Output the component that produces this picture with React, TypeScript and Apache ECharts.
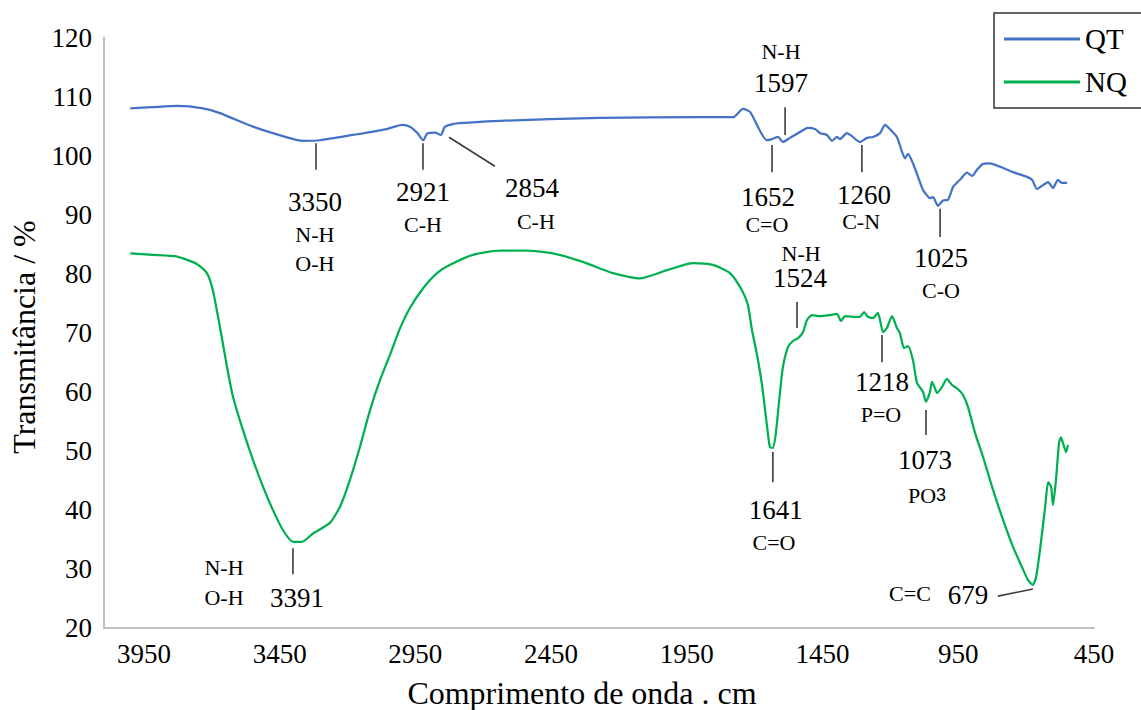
import React, { useEffect, useRef } from 'react';
import * as echarts from 'echarts';

const FONT = 'Liberation Serif';
const SUBFONT = 'Liberation Sans';

const seriesNames = ['QT', 'NQ'];
const seriesColors = ['#4472C4', '#00B050'];

const xTickLabels = [3950, 3450, 2950, 2450, 1950, 1450, 950, 450];

const wnQT = [4000, 3917, 3828, 3732, 3670, 3548, 3423, 3364, 3301, 3180, 3055, 2999, 2970, 2944, 2921, 2907, 2878, 2856, 2841, 2811, 2786, 2638, 2270, 1901, 1780, 1743, 1717, 1655, 1636, 1614, 1596, 1570, 1533, 1504, 1478, 1459, 1434, 1415, 1397, 1386, 1360, 1342, 1312, 1286, 1264, 1238, 1220, 1202, 1176, 1157, 1146, 1135, 1117, 1098, 1080, 1054, 1043, 1025, 1006, 988, 969, 944, 918, 899, 881, 859, 833, 796, 748, 697, 678, 660, 638, 619, 601, 583, 568, 549];
const tQT = [108.0, 108.2, 108.4, 108.0, 107.2, 104.9, 103.1, 102.5, 102.6, 103.5, 104.5, 105.2, 104.9, 103.9, 102.6, 103.7, 103.9, 103.5, 104.9, 105.35, 105.5, 105.9, 106.4, 106.5, 106.5, 107.9, 107.4, 102.6, 102.8, 103.15, 102.3, 103.0, 104.0, 104.7, 104.5, 103.8, 103.5, 102.5, 103.15, 102.8, 103.8, 103.3, 102.3, 103.0, 103.15, 103.8, 105.2, 104.5, 103.15, 100.6, 99.55, 100.3, 98.7, 96.35, 94.2, 92.8, 92.95, 91.5, 92.4, 92.5, 94.7, 95.9, 97.1, 96.55, 97.6, 98.6, 98.7, 98.1, 97.2, 96.4, 95.9, 94.35, 95.0, 95.5, 94.5, 95.9, 95.4, 95.4];

const wnNQ = [4000, 3917, 3828, 3755, 3718, 3696, 3670, 3644, 3622, 3585, 3548, 3511, 3475, 3438, 3401, 3368, 3327, 3265, 3228, 3191, 3154, 3117, 3080, 3044, 3007, 2970, 2922, 2870, 2822, 2738, 2638, 2539, 2443, 2333, 2222, 2123, 2023, 1927, 1854, 1791, 1747, 1725, 1710, 1691, 1673, 1655, 1644, 1633, 1622, 1607, 1596, 1577, 1559, 1540, 1522, 1507, 1489, 1459, 1423, 1397, 1382, 1367, 1338, 1312, 1297, 1283, 1264, 1246, 1227, 1213, 1194, 1176, 1165, 1150, 1135, 1117, 1102, 1080, 1069, 1054, 1047, 1036, 1028, 1010, 992, 973, 955, 933, 914, 888, 859, 822, 785, 748, 715, 693, 675, 664, 649, 630, 619, 608, 601, 590, 579, 572, 564, 553, 546];
const tNQ = [83.45, 83.2, 82.9, 81.65, 80.1, 77.2, 71.0, 64.25, 59.2, 53.5, 48.45, 43.9, 40.0, 36.6, 34.6, 34.6, 36.0, 37.8, 40.5, 45.1, 50.7, 56.9, 62.0, 66.2, 70.7, 74.2, 77.5, 80.1, 81.5, 83.2, 83.9, 83.9, 83.45, 82.0, 80.1, 79.2, 80.6, 81.8, 81.5, 80.1, 77.2, 74.7, 70.45, 66.2, 61.15, 54.4, 50.65, 50.5, 53.0, 59.8, 64.2, 67.6, 68.6, 69.1, 70.1, 72.2, 73.0, 72.8, 73.0, 73.2, 72.0, 72.8, 72.7, 72.7, 73.5, 72.7, 72.5, 73.35, 70.1, 70.8, 72.8, 70.8, 69.95, 67.4, 67.75, 65.4, 61.5, 60.0, 58.3, 60.0, 61.7, 60.6, 59.8, 60.8, 62.2, 61.15, 60.6, 59.5, 57.4, 53.0, 49.0, 43.4, 38.3, 33.7, 30.3, 28.1, 27.3, 28.5, 33.2, 40.5, 44.7, 43.9, 40.8, 45.1, 51.3, 52.3, 51.3, 49.8, 51.0];

// Annotations: leader line [x1, y1, x2, y2] and texts [text, x, y, kind] in data units
const annotations: { line: number[]; texts: [string, number, number, string][] }[] = [
  { line: [3316, 102.1, 3316, 97.6], texts: [['3350', 3320, 92.1, 'big'], ['N-H', 3320, 86.6, 'small'], ['O-H', 3320, 81.8, 'small']] },
  { line: [2922, 102.1, 2922, 97.6], texts: [['2921', 2922, 93.9, 'big'], ['C-H', 2922, 88.3, 'small']] },
  { line: [2826, 103.1, 2657, 98.2], texts: [['2854', 2520, 94.5, 'big'], ['C-H', 2506, 88.8, 'small']] },
  { line: [1588, 108.2, 1588, 103.5], texts: [['N-H', 1603, 117.7, 'small'], ['1597', 1603, 112.3, 'big']] },
  { line: [1636, 101.8, 1636, 97.2], texts: [['1652', 1651, 93.0, 'big'], ['C=O', 1655, 88.3, 'small']] },
  { line: [1305, 101.8, 1305, 97.2], texts: [['1260', 1297, 93.3, 'big'], ['C-N', 1308, 88.8, 'small']] },
  { line: [1017, 91.0, 1017, 86.2], texts: [['1025', 1014, 82.7, 'big'], ['C-O', 1014, 77.2, 'small']] },
  { line: [3401, 33.5, 3401, 29.1], texts: [['3391', 3386, 25.1, 'big'], ['N-H', 3655, 30.3, 'small'], ['O-H', 3655, 25.1, 'small']] },
  { line: [1633, 49.8, 1633, 44.7], texts: [['1641', 1622, 40.0, 'big'], ['C=O', 1629, 34.4, 'small']] },
  { line: [1544, 75.2, 1544, 70.8], texts: [['N-H', 1529, 83.5, 'small'], ['1524', 1533, 79.2, 'big']] },
  { line: [1231, 69.6, 1231, 65.0], texts: [['1218', 1231, 61.7, 'big'], ['P=O', 1235, 56.2, 'small']] },
  { line: [1069, 56.9, 1069, 52.7], texts: [['1073', 1073, 48.5, 'big'], ['PO3', 1065, 42.5, 'sub']] },
  { line: [804, 25.4, 675, 26.6], texts: [['679', 914, 25.6, 'big'], ['C=C', 1128, 25.8, 'small']] },
];

const X_MIN = 450;
const X_MAX = 4097;

export default function App() {
  const ref = useRef<HTMLDivElement>(null);

  useEffect(() => {
    if (!ref.current) return;
    const chart = echarts.init(ref.current, null, { renderer: 'svg' });
    const zip = (xs: number[], ys: number[]) => xs.map((x, i) => [x, ys[i]]);
    const option: any = {
      animation: false,
      backgroundColor: '#ffffff',
      textStyle: { fontFamily: FONT },
      grid: { left: 104, right: 47, top: 37.5, bottom: 82, outerBoundsMode: 'none' },
      legend: {
        orient: 'vertical',
        left: 994,
        top: 13,
        padding: [11, 15, 11, 10],
        itemWidth: 76,
        itemHeight: 3,
        itemGap: 13,
        icon: 'rect',
        borderColor: '#333333',
        borderWidth: 1.5,
        textStyle: { fontFamily: FONT, fontSize: 29, color: '#000', lineHeight: 30 },
        data: seriesNames,
      },
      xAxis: {
        type: 'value',
        inverse: true,
        min: X_MIN,
        max: X_MAX,
        interval: 500,
        axisLine: { show: true, onZero: false, lineStyle: { color: '#bfbfbf', width: 2 } },
        axisTick: { show: false },
        splitLine: { show: false },
        axisLabel: { show: false },
      },
      yAxis: {
        type: 'value',
        min: 20,
        max: 120,
        interval: 10,
        axisLine: { show: true, onZero: false, lineStyle: { color: '#bfbfbf', width: 2 } },
        axisTick: { show: false },
        splitLine: { show: false },
        axisLabel: { fontFamily: FONT, fontSize: 27, color: '#000', margin: 12 },
      },
      series: [
        {
          name: seriesNames[0],
          type: 'line',
          data: zip(wnQT, tQT),
          symbol: 'none',
          smooth: 0.2,
          color: seriesColors[0],
          lineStyle: { color: seriesColors[0], width: 2.25 },
        },
        {
          name: seriesNames[1],
          type: 'line',
          data: zip(wnNQ, tNQ),
          symbol: 'none',
          smooth: 0.2,
          color: seriesColors[1],
          lineStyle: { color: seriesColors[1], width: 2.25 },
        },
      ],
    };
    chart.setOption(option);

    const px = (x: number, y: number) => chart.convertToPixel({ gridIndex: 0 }, [x, y]) as number[];
    const elements: any[] = [];

    // x tick labels
    const axisY = px(X_MIN, 20)[1];
    xTickLabels.forEach((v) => {
      const p = px(v, 20);
      elements.push({
        type: 'text',
        x: p[0],
        y: axisY + 26,
        style: { text: String(v), fontFamily: FONT, fontSize: 27, fill: '#000', align: 'center', verticalAlign: 'middle' },
      });
    });

    // axis titles
    elements.push({
      type: 'text',
      x: 582,
      y: 693,
      style: { text: 'Comprimento de onda . cm', fontFamily: FONT, fontSize: 32, fill: '#000', align: 'center', verticalAlign: 'middle' },
    });
    elements.push({
      type: 'text',
      x: 24,
      y: 337,
      rotation: Math.PI / 2,
      style: { text: 'Transmitância / %', fontFamily: FONT, fontSize: 32, fill: '#000', align: 'center', verticalAlign: 'middle' },
    });

    annotations.forEach((a) => {
      const p1 = px(a.line[0], a.line[1]);
      const p2 = px(a.line[2], a.line[3]);
      elements.push({
        type: 'line',
        shape: { x1: p1[0], y1: p1[1], x2: p2[0], y2: p2[1] },
        style: { stroke: '#3a3a3a', lineWidth: 1.6 },
      });
      a.texts.forEach(([t, x, y, kind]) => {
        const p = px(x, y);
        if (kind === 'sub') {
          elements.push({
            type: 'text',
            x: p[0],
            y: p[1],
            style: {
              text: '{a|PO}{b|3}',
              align: 'center',
              verticalAlign: 'middle',
              rich: {
                a: { fontFamily: FONT, fontSize: 22, fill: '#000', color: '#000' },
                b: { fontFamily: SUBFONT, fontSize: 18, fill: '#000', color: '#000' },
              },
            },
          });
        } else {
          elements.push({
            type: 'text',
            x: p[0],
            y: p[1],
            style: {
              text: t,
              fontFamily: FONT,
              fontSize: kind === 'big' ? 27 : 22,
              fill: '#000',
              align: 'center',
              verticalAlign: 'middle',
            },
          });
        }
      });
    });

    chart.setOption({ graphic: elements });

    return () => chart.dispose();
  }, []);

  return (
    <div
      ref={ref}
      style={{ position: 'fixed', left: 0, top: 0, width: 1141, height: 710, background: '#fff' }}
    />
  );
}
